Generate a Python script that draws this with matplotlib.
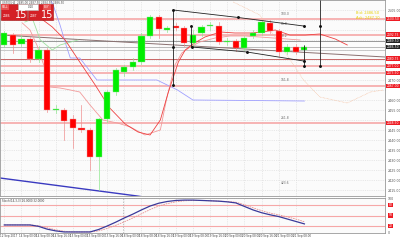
import numpy as np
import matplotlib.pyplot as plt
from matplotlib.patches import Rectangle

# H4 candles (open, high, low, close)
opens = [2487.5, 2492.5, 2488.0, 2490.5, 2480.5, 2485.0, 2455.0, 2455.0, 2450.5, 2446.0,
         2445.0, 2431.5, 2450.5, 2464.0, 2474.0, 2476.5, 2479.0, 2492.0, 2501.5, 2495.0,
         2497.0, 2496.0, 2488.5, 2493.5, 2497.0, 2497.0, 2489.0, 2489.5, 2486.0, 2492.0,
         2493.5, 2498.5, 2494.5, 2484.0, 2486.5, 2485.0]
closes = [2493.5, 2487.5, 2490.5, 2480.5, 2485.0, 2455.0, 2455.5, 2449.5, 2446.0, 2445.0,
          2431.5, 2450.5, 2464.0, 2475.0, 2476.5, 2479.0, 2492.0, 2501.5, 2495.5, 2496.0,
          2496.0, 2488.5, 2492.5, 2496.5, 2497.5, 2489.0, 2489.5, 2486.0, 2491.0, 2493.5,
          2499.0, 2494.5, 2484.0, 2486.5, 2484.0, 2486.5]
highs = [2494.5, 2493.5, 2492.5, 2491.5, 2487.0, 2486.0, 2457.5, 2456.0, 2452.5, 2457.5,
         2446.0, 2451.0, 2465.0, 2476.0, 2477.5, 2481.0, 2493.5, 2502.5, 2502.5, 2497.0,
         2498.5, 2497.0, 2495.0, 2497.5, 2499.0, 2499.0, 2491.0, 2490.5, 2492.0, 2495.0,
         2500.0, 2500.0, 2495.5, 2488.0, 2488.0, 2487.5]
lows = [2486.5, 2483.5, 2487.0, 2479.0, 2479.0, 2454.0, 2453.5, 2440.0, 2436.0, 2444.0,
        2425.0, 2415.0, 2449.0, 2462.5, 2472.0, 2475.0, 2478.0, 2491.0, 2491.0, 2494.0,
        2495.0, 2487.0, 2487.0, 2492.0, 2495.0, 2488.0, 2487.5, 2484.5, 2485.0, 2491.0,
        2492.5, 2493.5, 2482.0, 2483.0, 2483.0, 2484.5]

# moving average lines (bar index, price)
red_x = [4.2, 5.6, 7.1, 8.8, 10.6, 12.3, 14.1, 15.6, 17.0, 18.2, 19.1, 20.3, 21.1, 22.0,
         23.4, 25.2, 26.9, 28.7, 30.1, 31.6, 33.3, 35.1, 36.8, 38.6, 40.0]
red_y = [2501.0, 2496.5, 2490.0, 2479.0, 2467.5, 2456.0, 2448.0, 2444.0, 2442.5, 2450.0,
         2463.5, 2479.0, 2485.0, 2488.0, 2491.5, 2494.0, 2493.5, 2493.5, 2494.0, 2495.0,
         2492.5, 2492.5, 2493.0, 2490.5, 2487.5]
pink_x = [2.1, 3.0, 3.8, 4.6, 5.3, 6.5, 7.7, 8.8, 10.0, 11.5, 13.2, 14.7, 16.4, 18.2,
          18.9, 19.9, 20.7, 21.7, 22.8, 24.6, 26.3, 28.1, 29.8, 34.5]
pink_y = [2498.5, 2495.0, 2487.5, 2477.5, 2466.5, 2466.0, 2465.0, 2464.0, 2457.5, 2450.0,
          2448.5, 2446.5, 2442.5, 2445.0, 2460.0, 2477.5, 2483.5, 2486.5, 2489.0, 2491.0,
          2492.0, 2492.0, 2491.5, 2490.0]
lime_x = [2.4, 3.3, 4.2, 5.6, 6.5, 8.6]
lime_y = [2499.0, 2500.5, 2490.0, 2485.0, 2487.5, 2490.0]
blue_x = [5.3, 5.7, 6.5, 7.2, 7.7, 8.8, 10.8, 17.8, 20.2, 22.0, 35.0]
blue_y = [2511.0, 2507.5, 2497.5, 2487.5, 2481.0, 2481.0, 2470.0, 2470.0, 2465.0, 2460.0, 2459.5]
navy_x = [-0.5, 15.5, 17.0]
navy_y = [2421.0, 2412.0, 2411.0]
salmon_x = [26.7, 29.8, 32.2, 34.9, 36.8, 40.0, 42.7, 44.2]
salmon_y = [2509.0, 2502.5, 2487.5, 2470.0, 2461.5, 2458.5, 2464.0, 2465.0]

# horizontal levels
pink_levels = [2500.5, 2492.75, 2477.0, 2473.5, 2467.0, 2448.5]
darkred_level = 2480.75
gray_levels = [2489.5, 2486.5, 2485.0]
fib_text = ["100.0", "61.8", "38.2", "161.8", "261.8", "423.6"]
fib_text_y = [2502.0, 2497.0, 2491.0, 2469.0, 2450.0, 2417.5]

# trend channel and vertical markers
up_x = [19.7, 27.2, 34.9]
up_y = [2505.0, 2501.3, 2497.0]
low_x = [21.9, 28.3, 34.9]
low_y = [2486.5, 2484.0, 2479.5]
vert_x = [19.7, 21.8, 34.9, 36.8]
vert_top = [2505.0, 2497.0, 2487.5, 2510.0]
vert_bot = [2467.5, 2486.5, 2477.0, 2477.0]
dot_x = [19.7, 19.7, 21.8, 34.9, 36.8, 36.8]
dot_y = [2486.5, 2467.5, 2497.0, 2477.0, 2497.0, 2477.0]

# stochastic
stoch_main = [23, 23, 23, 23, 19, 11, 6, 3, 3, 3, 3, 10, 20, 31, 43, 54, 66, 77, 85, 90,
              93, 94, 94, 93, 92, 91, 89, 86, 76, 66, 58, 52, 47, 40, 33, 26]
stoch_sig = [23, 23, 23, 23, 21, 15, 9, 5, 3, 3, 3, 6, 13, 22, 32, 43, 55, 67, 77, 84,
             89, 92, 93, 93, 92, 91, 90, 88, 81, 72, 64, 57, 52, 46, 40, 32]
stoch_levels = [80, 50, 20]

date_labels = ["12 Sep 2017", "14 Sep 00:00", "14 Sep 08:00", "14 Sep 16:00", "15 Sep 00:00",
               "15 Sep 08:00", "15 Sep 16:00", "18 Sep 00:00", "18 Sep 08:00", "18 Sep 16:00",
               "19 Sep 00:00", "19 Sep 08:00", "19 Sep 16:00", "20 Sep 00:00", "20 Sep 08:00",
               "20 Sep 16:00", "21 Sep 00:00", "21 Sep 08:00"]

W, H = 400, 242
fig = plt.figure(figsize=(4.0, 2.42), dpi=100)
fig.patch.set_facecolor('white')

ax = fig.add_axes([0, 46 / H, 385 / W, 196 / H])
ax2 = fig.add_axes([0, 9 / H, 385 / W, 35 / H])

for a in (ax, ax2):
    a.set_facecolor('#fbfbfb')
    a.set_xlim(-0.5, 44.4)
    a.yaxis.tick_right()
    a.tick_params(axis='y', labelsize=2.3, length=1, width=0.3, pad=1, colors='#555555')
    a.tick_params(axis='x', length=0)
    for s in a.spines.values():
        s.set_color('#999999')
        s.set_linewidth(0.6)
    a.set_xticks(np.arange(0, 36, 2))
    a.grid(color='#d8d8d8', linestyle=(0, (2, 2)), linewidth=0.4)
    a.set_axisbelow(True)

boxed = pink_levels + [darkred_level] + gray_levels[:2]
ticks = np.arange(2415, 2510, 5)
ax.set_ylim(2412, 2510)
ax.set_yticks(ticks)
ax.set_yticklabels([("" if min(abs(t - b) for b in boxed) < 3 else f"{t:.2f}") for t in ticks])
ax.set_xticklabels([])

# levels
for lv in pink_levels:
    ax.axhline(lv, color='#f6a8a8', linewidth=1.2, zorder=1)
ax.axhline(darkred_level, color='#c05050', linewidth=0.6, zorder=1)
ax.axhline(gray_levels[0], color='#707070', linewidth=0.5, zorder=1)
ax.axhline(gray_levels[1], color='#a0a0a0', linewidth=0.5, zorder=1)
ax.axhline(gray_levels[2], color='#b8b8b8', linewidth=0.5, zorder=1)
ax.plot([-0.5, 44.4], [2492.5, 2481.5], color='#8a7070', linewidth=0.7, zorder=1)

for t, ty in zip(fib_text, fib_text_y):
    ax.text(32.2, ty, t, fontsize=2.2, color='#666666', va='bottom')

# moving averages
ax.plot(navy_x, navy_y, color='#3a3ac0', linewidth=1.0, zorder=2)
ax.plot(blue_x, blue_y, color='#a0a0ff', linewidth=0.6, zorder=2)
ax.plot(pink_x, pink_y, color='#f29a9a', linewidth=0.6, zorder=2)
ax.plot(lime_x, lime_y, color='#a0e0a0', linewidth=0.6, zorder=2)
ax.plot(red_x, red_y, color='#ee4040', linewidth=0.6, zorder=2)
ax.plot(salmon_x, salmon_y, color='#f5c0a0', linewidth=0.5, linestyle=(0, (1, 1)), zorder=2)

# candles
for i in range(len(opens)):
    o, c, h, l = opens[i], closes[i], highs[i], lows[i]
    up = c >= o
    body_col = '#00ee00' if up else '#ff0000'
    wick_col = '#90e890' if up else '#f09090'
    ax.plot([i, i], [l, h], color=wick_col, linewidth=0.5, zorder=3)
    bottom = min(o, c)
    height = max(abs(c - o), 0.6)
    ax.add_patch(Rectangle((i - 0.36, bottom), 0.72, height, facecolor=body_col,
                           edgecolor='#f0a0a0' if not up else '#90e090', linewidth=0.3,
                           zorder=4))

# channel
ax.plot(up_x, up_y, color='#222222', linewidth=0.6, zorder=5)
ax.plot(low_x, low_y, color='#222222', linewidth=0.6, zorder=5)
ax.vlines(vert_x, vert_bot, vert_top, color='#222222', linewidth=0.6, zorder=5)
ax.scatter(up_x + low_x + dot_x, up_y + low_y + dot_y, s=1.2, color='#111111', zorder=6)

# price labels on the right axis
ytr = ax.get_yaxis_transform()
for lv in pink_levels + [darkred_level]:
    ax.text(1.005, lv, f"{lv:.2f}", transform=ytr, fontsize=2.2, color='white', va='center',
            bbox=dict(boxstyle='square,pad=0.15', facecolor='#ee1c24', edgecolor='none'),
            clip_on=False)
for lv in gray_levels[:2]:
    ax.text(1.005, lv, f"{lv:.2f}", transform=ytr, fontsize=2.2, color='white', va='center',
            bbox=dict(boxstyle='square,pad=0.15', facecolor='#222222', edgecolor='none'),
            clip_on=False)

ax.text(0.925, 0.93, f"Bid: {closes[-1]:.2f}", transform=ax.transAxes, fontsize=2.6,
        color='#e8d000')
ax.text(0.925, 0.905, f"Ask: {closes[-1] + 0.6:.2f}", transform=ax.transAxes, fontsize=2.6,
        color='#e8d000')
ax.text(0.005, 0.997, f"US500,H4  {opens[-1]:.2f} {highs[-1]:.2f} {lows[-1]:.2f} {closes[-1]:.2f}",
        transform=ax.transAxes, fontsize=2.0, color='#555555', va='top')

# one-click trading panel
def px_rect(x, y, w, h, fc, ec='none'):
    fig.add_artist(Rectangle((x / W, 1 - (y + h) / H), w / W, h / H, transform=fig.transFigure,
                             facecolor=fc, edgecolor=ec, linewidth=0.4))

px_rect(0.5, 4, 26, 15.5, '#d42026', '#a01010')
px_rect(28, 4, 25, 15.5, '#d42026', '#a01010')
px_rect(18, 4, 20, 6, 'white', '#bbbbbb')
px_rect(1, 4.5, 8, 5, '#e85050')
px_rect(43, 4.5, 8, 5, '#e85050')
fig.text(2, H - 7.5, "SELL", fontsize=2.0, color='white', va='center', transform=None)
fig.text(44, H - 7.5, "BUY", fontsize=2.0, color='white', va='center', transform=None)
fig.text(28, H - 7.5, "0.10", fontsize=2.0, color='#333333', va='center', transform=None)
fig.text(3, H - 16, "2486", fontsize=2.2, color='white', va='center', transform=None)
fig.text(15, H - 15.5, "15", fontsize=7, color='white', va='center', transform=None)
fig.text(30, H - 16, "2487", fontsize=2.2, color='white', va='center', transform=None)
fig.text(41, H - 15.5, "15", fontsize=7, color='white', va='center', transform=None)

# stochastic panel
ax2.set_ylim(0, 100)
ax2.set_yticks([0, 100])
ax2.set_yticklabels(["0", "100"])
for lv in stoch_levels:
    ax2.axhline(lv, color='#f6a8a8', linewidth=0.8, zorder=1)
    ax2.text(1.01, lv, str(lv), transform=ax2.get_yaxis_transform(), fontsize=2.2,
             color='white', va='center', clip_on=False,
             bbox=dict(boxstyle='square,pad=0.15', facecolor='#ee1c24', edgecolor='none'))
ax2.axvline(13.9, color='#aaaaaa', linewidth=0.5, linestyle=(0, (2, 2)))
idx = np.arange(len(stoch_main))
ax2.plot(idx, stoch_sig, color='#e89090', linewidth=0.6, linestyle=(0, (2, 1)))
ax2.plot(idx, stoch_main, color='#3a3a9a', linewidth=0.9)
ax2.text(0.005, 0.97, f"Stoch(14,3,3) {stoch_main[-1]:.4f} {stoch_sig[-1]:.4f}",
         transform=ax2.transAxes, fontsize=2.0, color='#444444', va='top')

ax2.set_xticklabels([])
xpos = [-0.5] + [2 * k - 0.3 for k in range(1, len(date_labels))]
for xp, lab in zip(xpos, date_labels):
    ax2.text(xp, -4, lab, fontsize=2.0, color='#444444', ha='left', va='top', clip_on=False)

fig.savefig('out.png', dpi=100)
